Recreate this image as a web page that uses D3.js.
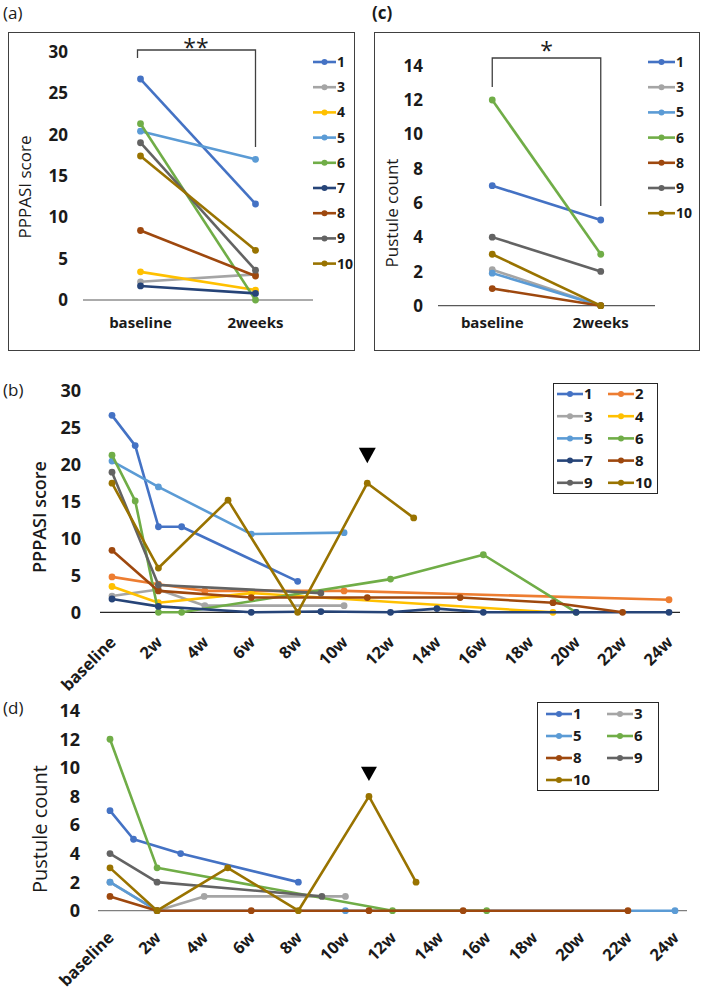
<!DOCTYPE html>
<html><head><meta charset="utf-8">
<script src="https://cdn.jsdelivr.net/npm/d3@7"></script>
<style>
body{margin:0;background:#fff;}
svg{display:block;}
text{font-family:'Open Sans',sans-serif;fill:#1a1a1a;}
</style>
</head><body>
<svg id="chart" width="709" height="994"></svg>
<script>
// ---------- data ----------
const patientIds = ["1","2","3","4","5","6","7","8","9","10"];
const patientColors = ["#4472C4","#ED7D31","#A5A5A5","#FFC000","#5B9BD5","#70AD47","#264478","#9E480E","#636363","#997300"];
const timepoints2 = ["baseline","2weeks"];

// (a) PPPASI score, baseline vs 2 weeks
const pppasiPatientsA = ["1","3","4","5","6","7","8","9","10"];
const pppasiA = [[26.7,11.6],[2.2,3.1],[3.4,1.2],[20.4,17.0],[21.3,0],[1.7,0.8],[8.4,2.9],[19.0,3.6],[17.4,6.0]];
const pppasiTicks = [0,5,10,15,20,25,30];

// (c) pustule count, baseline vs 2 weeks
const pustulePatientsC = ["1","3","5","6","8","9","10"];
const pustuleC = [[7,5],[2.1,0],[1.9,0],[12,3],[1,0],[4,2],[3,0]];
const pustuleTicks = [0,2,4,6,8,10,12,14];

// (b) PPPASI score over weeks
const pppasiPatientsB = ["1","2","3","4","5","6","7","8","9","10"];
const pppasiWeeksB = [
  [0,1,2,3,8],
  [0,2,4,10,24],
  [0,2,4,10],
  [0,2,6,19],
  [0,2,6,10],
  [0,1,2,3,12,16,20],
  [0,2,6,9,12,14,16,20,24],
  [0,2,6,11,15,19,22],
  [0,2,9],
  [0,2,5,8,11,13]
];
const pppasiValuesB = [
  [26.7,22.6,11.6,11.6,4.2],
  [4.8,3.8,2.9,2.9,1.7],
  [2.2,3.1,0.9,0.9],
  [3.5,1.3,2.6,0],
  [20.5,17.0,10.6,10.8],
  [21.3,15.1,0,0,4.5,7.8,0],
  [1.8,0.8,0,0.1,0,0.5,0,0,0],
  [8.4,2.9,2.0,2.0,2.0,1.3,0],
  [19.0,3.7,2.6],
  [17.5,6.0,15.2,0,17.5,12.8]
];

// (d) pustule count over weeks
const pustulePatientsD = ["1","3","5","6","8","9","10"];
const pustuleWeeksD = [
  [0,1,3,8],
  [0,2,4,10],
  [0,2,10,24],
  [0,2,12,16],
  [0,2,6,11,15,22],
  [0,2,9],
  [0,2,5,8,11,13]
];
const pustuleValuesD = [
  [7,5,4,2],
  [2,0,1,1],
  [2,0,0,0],
  [12,3,0,0],
  [1,0,0,0,0,0],
  [4,2,1],
  [3,0,3,0,8,2]
];

const weekTicks = [0,2,4,6,8,10,12,14,16,18,20,22,24];
const weekTickLabels = ["baseline","2w","4w","6w","8w","10w","12w","14w","16w","18w","20w","22w","24w"];
const arrowWeek = 11;

// ---------- helpers ----------
const svg = d3.select("#chart");
const colorOf = id => patientColors[patientIds.indexOf(id)];

function drawSeries(g, pts, color, lw, r) {
  g.append("path").datum(pts)
    .attr("fill","none").attr("stroke",color).attr("stroke-width",lw)
    .attr("stroke-linejoin","round")
    .attr("d", d3.line().x(d=>d[0]).y(d=>d[1]));
  g.selectAll(null).data(pts).enter().append("circle")
    .attr("cx",d=>d[0]).attr("cy",d=>d[1]).attr("r",r).attr("fill",color);
}

function legendItem(g, x0, x1, y, id, fs) {
  const c = colorOf(id);
  g.append("line").attr("x1",x0).attr("x2",x1).attr("y1",y).attr("y2",y)
    .attr("stroke",c).attr("stroke-width",2.6);
  g.append("circle").attr("cx",(x0+x1)/2).attr("cy",y).attr("r",3).attr("fill",c);
  g.append("text").attr("x",x1+1).attr("y",y).attr("dy","0.36em")
    .attr("font-size",fs).attr("font-weight","bold").text(id);
}

function yTicks(g, yScale, ticks, xRight, fs) {
  g.selectAll(null).data(ticks).enter().append("text")
    .attr("x",xRight).attr("y",d=>yScale(d)).attr("dy","0.36em")
    .attr("text-anchor","end").attr("font-size",fs).attr("font-weight","bold")
    .text(d=>d);
}

function yTitle(g, x, y, txt, fs, fw) {
  g.append("text").attr("transform",`translate(${x},${y}) rotate(-90)`)
    .attr("text-anchor","middle").attr("dy","0.36em")
    .attr("font-size",fs).attr("font-weight",fw).text(txt);
}

// ---------- panel (a) ----------
{
  const g = svg.append("g");
  g.append("text").attr("x",3).attr("y",19).attr("font-size",17).text("(a)");
  g.append("rect").attr("x",8.5).attr("y",32.5).attr("width",346).attr("height",318)
    .attr("fill","none").attr("stroke","#404040").attr("stroke-width",1);
  const x = d3.scalePoint().domain(timepoints2).range([83,313]).padding(0.5);
  const y = d3.scaleLinear().domain([0,30]).range([300,51.7]);
  g.append("line").attr("x1",83).attr("x2",313).attr("y1",y(0)).attr("y2",y(0))
    .attr("stroke","#595959").attr("stroke-width",1.2);
  yTicks(g, y, pppasiTicks, 68, 17);
  g.selectAll(null).data(timepoints2).enter().append("text")
    .attr("x",d=>x(d)).attr("y",328).attr("text-anchor","middle")
    .attr("font-size",15).attr("font-weight","bold").text(d=>d);
  yTitle(g, 25, 187, "PPPASI score", 17, "normal");
  pppasiPatientsA.forEach((id,i)=>{
    drawSeries(g, timepoints2.map((t,j)=>[x(t), y(pppasiA[i][j])]), colorOf(id), 2.6, 3.4);
  });
  // significance bracket
  g.append("path").attr("d",`M${x("baseline")-3},58 V50 H${x("2weeks")} V147`)
    .attr("fill","none").attr("stroke","#404040").attr("stroke-width",1.3);
  g.append("text").attr("x",(x("baseline")+x("2weeks"))/2-2).attr("y",56)
    .attr("text-anchor","middle").attr("font-size",23).text("**");
  pppasiPatientsA.forEach((id,i)=> legendItem(g, 313, 336, 62 + i*25.2, id, 14));
}

// ---------- panel (c) ----------
{
  const g = svg.append("g");
  g.append("text").attr("x",372).attr("y",19).attr("font-size",17).attr("font-weight","bold").text("(c)");
  g.append("rect").attr("x",374.5).attr("y",32.5).attr("width",325).attr("height",318)
    .attr("fill","none").attr("stroke","#404040").attr("stroke-width",1);
  const x = d3.scalePoint().domain(timepoints2).range([438,655]).padding(0.5);
  const y = d3.scaleLinear().domain([0,14]).range([305.7,65.7]);
  g.append("line").attr("x1",438).attr("x2",655).attr("y1",y(0)).attr("y2",y(0))
    .attr("stroke","#595959").attr("stroke-width",1.2);
  yTicks(g, y, pustuleTicks, 423, 17);
  g.selectAll(null).data(timepoints2).enter().append("text")
    .attr("x",d=>x(d)).attr("y",328).attr("text-anchor","middle")
    .attr("font-size",15).attr("font-weight","bold").text(d=>d);
  yTitle(g, 392, 213, "Pustule count", 17, "normal");
  pustulePatientsC.forEach((id,i)=>{
    drawSeries(g, timepoints2.map((t,j)=>[x(t), y(pustuleC[i][j])]), colorOf(id), 2.6, 3.4);
  });
  g.append("path").attr("d",`M${x("baseline")},87 V58 H${x("2weeks")} V206`)
    .attr("fill","none").attr("stroke","#404040").attr("stroke-width",1.3);
  g.append("text").attr("x",(x("baseline")+x("2weeks"))/2).attr("y",59)
    .attr("text-anchor","middle").attr("font-size",23).text("*");
  pustulePatientsC.forEach((id,i)=> legendItem(g, 648, 675, 62 + i*25.2, id, 14));
}

// ---------- panel (b) ----------
{
  const g = svg.append("g");
  g.append("text").attr("x",3).attr("y",396).attr("font-size",17).text("(b)");
  const x = d3.scaleLinear().domain([0,24]).range([112,669]);
  const y = d3.scaleLinear().domain([0,30]).range([612.3,391]);
  yTicks(g, y, pppasiTicks, 81, 18);
  yTitle(g, 40, 517, "PPPASI score", 18, 600);
  g.append("line").attr("x1",100).attr("x2",680).attr("y1",y(0)).attr("y2",y(0))
    .attr("stroke","#262626").attr("stroke-width",1.2);
  g.selectAll(null).data(weekTicks).enter().append("text")
    .attr("transform",(d)=>`translate(${x(d)+5},${y(0)+31}) rotate(-45)`)
    .attr("text-anchor","end").attr("font-size",16.5).attr("font-weight","bold")
    .text((d,i)=>weekTickLabels[i]);
  pppasiPatientsB.forEach((id,i)=>{
    drawSeries(g, pppasiWeeksB[i].map((w,j)=>[x(w), y(pppasiValuesB[i][j])]), colorOf(id), 2.6, 3.4);
  });
  const ax = x(arrowWeek);
  g.append("path").attr("d",`M${ax-8.5},${y(22.3)} L${ax+8.5},${y(22.3)} L${ax},${y(20.2)} Z`).attr("fill","#000");
  g.append("rect").attr("x",553.5).attr("y",383.5).attr("width",104).attr("height",110)
    .attr("fill","#fff").attr("stroke","#262626").attr("stroke-width",1);
  pppasiPatientsB.forEach((id,i)=>{
    const col = i%2, row = Math.floor(i/2);
    const x0 = col ? 608 : 557;
    legendItem(g, x0, x0+26, 394 + row*22.2, id, 15);
  });
}

// ---------- panel (d) ----------
{
  const g = svg.append("g");
  g.append("text").attr("x",3).attr("y",714).attr("font-size",17).text("(d)");
  const x = d3.scaleLinear().domain([0,24]).range([110,675]);
  const y = d3.scaleLinear().domain([0,14]).range([910.7,710.7]);
  yTicks(g, y, pustuleTicks, 80, 18);
  yTitle(g, 40, 829, "Pustule count", 20, "normal");
  g.append("line").attr("x1",98).attr("x2",687).attr("y1",y(0)).attr("y2",y(0))
    .attr("stroke","#7F7F7F").attr("stroke-width",1.3);
  g.selectAll(null).data(weekTicks).enter().append("text")
    .attr("transform",(d)=>`translate(${x(d)+5},${y(0)+28}) rotate(-45)`)
    .attr("text-anchor","end").attr("font-size",16.5).attr("font-weight","bold")
    .text((d,i)=>weekTickLabels[i]);
  pustulePatientsD.forEach((id,i)=>{
    drawSeries(g, pustuleWeeksD[i].map((w,j)=>[x(w), y(pustuleValuesD[i][j])]), colorOf(id), 2.6, 3.4);
  });
  const ax = x(arrowWeek);
  g.append("path").attr("d",`M${ax-8},${y(10.07)} L${ax+8},${y(10.07)} L${ax},${y(9.08)} Z`).attr("fill","#000");
  g.append("rect").attr("x",537.5).attr("y",702.5).attr("width",121).attr("height",88)
    .attr("fill","#fff").attr("stroke","#262626").attr("stroke-width",1);
  pustulePatientsD.forEach((id,i)=>{
    const col = i%2, row = Math.floor(i/2);
    const x0 = col ? 607 : 546;
    legendItem(g, x0, x0+26, 714 + row*22, id, 15);
  });
}
</script>
</body></html>
